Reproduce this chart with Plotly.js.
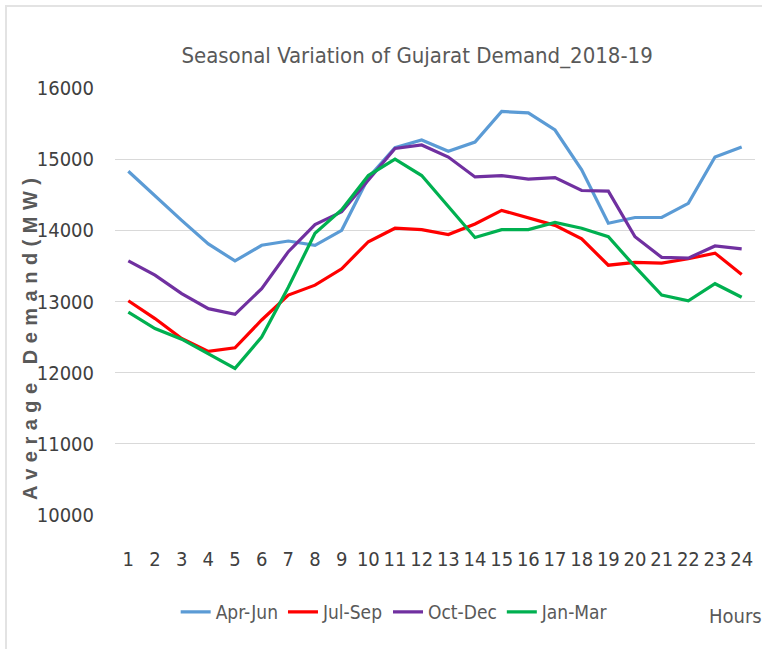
<!DOCTYPE html>
<html>
<head>
<meta charset="utf-8">
<script src="https://cdn.plot.ly/plotly-3.0.1.min.js"></script>
<style>
  html, body { margin: 0; padding: 0; background: #fff; }
  #wrap { position: relative; width: 762px; height: 649px; }
  #chart { width: 762px; height: 649px; }
  #frame { position: absolute; left: 5px; top: 5px; right: -2px; bottom: -2px;
           border-left: 2px solid #e3e3e3; border-top: 2px solid #e3e3e3; pointer-events: none; }
</style>
</head>
<body>
<div id="wrap"><div id="chart"></div><div id="frame"></div></div>
<script>
const hours = [1,2,3,4,5,6,7,8,9,10,11,12,13,14,15,16,17,18,19,20,21,22,23,24];
const aprJun = [14830,14480,14140,13810,13570,13790,13850,13790,14000,14740,15160,15270,15110,15240,15670,15650,15410,14850,14100,14180,14180,14380,15030,15170];
const julSep = [13010,12760,12480,12300,12350,12740,13090,13230,13460,13840,14030,14010,13940,14090,14280,14180,14070,13880,13510,13550,13540,13600,13680,13380];
const octDec = [13570,13370,13110,12900,12820,13180,13700,14080,14260,14710,15150,15200,15030,14750,14770,14720,14740,14560,14550,13910,13620,13610,13780,13740];
const janMar = [12850,12620,12470,12270,12060,12500,13200,13960,14290,14770,15000,14770,14340,13900,14010,14010,14110,14030,13910,13490,13090,13010,13250,13060];
const seriesNames = ["Apr-Jun","Jul-Sep","Oct-Dec","Jan-Mar"];
const seriesColors = ["#5B9BD5","#FF0000","#7030A0","#00B050"];
const yTicks = [10000,11000,12000,13000,14000,15000,16000];

const narrow = "'Liberation Sans Narrow', 'DejaVu Sans Condensed', 'Arial Narrow', sans-serif";
const grey = "#595959";

const data = [aprJun, julSep, octDec, janMar].map((vals, i) => ({
  x: hours, y: vals, type: "scatter", mode: "lines", name: seriesNames[i],
  line: { color: seriesColors[i], width: 3.2 }
}));

const layout = {
  width: 762, height: 649,
  margin: { l: 115, r: 7, t: 88, b: 134 },
  paper_bgcolor: "#fff", plot_bgcolor: "#fff",
  showlegend: true,
  title: { text: "Seasonal Variation of Gujarat Demand_2018-19",
           font: { family: narrow, size: 22, color: grey },
           x: 0.472, xref: "paper", xanchor: "center", y: 0.915, yref: "container", yanchor: "middle" },
  xaxis: {
    range: [0.5, 24.5], tickmode: "array", tickvals: hours, ticktext: hours.map(String),
    showgrid: false, zeroline: false, showline: false,
    ticks: "outside", ticklen: 26, tickcolor: "rgba(0,0,0,0)",
    tickfont: { family: narrow, size: 20, color: "#404040" }
  },
  yaxis: {
    range: [10000, 16000], tickmode: "array", tickvals: yTicks, ticktext: yTicks.map(String),
    showgrid: true, gridcolor: "#d9d9d9", gridwidth: 1, zeroline: false, showline: false,
    ticks: "outside", ticklen: 16, tickcolor: "rgba(0,0,0,0)",
    tickfont: { family: narrow, size: 20, color: "#404040" }
  },
  legend: { orientation: "h", x: 0.437, xanchor: "center", y: -0.227, yanchor: "middle",
            font: { family: narrow, size: 19, color: grey }, itemwidth: 30, tracegroupgap: 0 },
  annotations: [
    { text: "<b>Average Demand(MW)</b>", xref: "paper", yref: "paper", x: -0.133, y: 0.42,
      showarrow: false, textangle: -90, xanchor: "center", yanchor: "middle",
      font: { family: "'Liberation Sans', Arial, sans-serif", size: 20, color: grey } },
    { text: "Hours", xref: "paper", yref: "paper", x: (735-115)/640, y: (515-616)/427,
      showarrow: false, xanchor: "center", yanchor: "middle",
      font: { family: narrow, size: 20, color: grey } }
  ]
};

Plotly.newPlot("chart", data, layout, { displayModeBar: false, staticPlot: true }).then(() => {
  document.querySelectorAll(".annotation-text").forEach(t => {
    if (t.textContent.indexOf("Average") === 0) {
      t.style.letterSpacing = "6.5px";
    }
  });
});
</script>
</body>
</html>
